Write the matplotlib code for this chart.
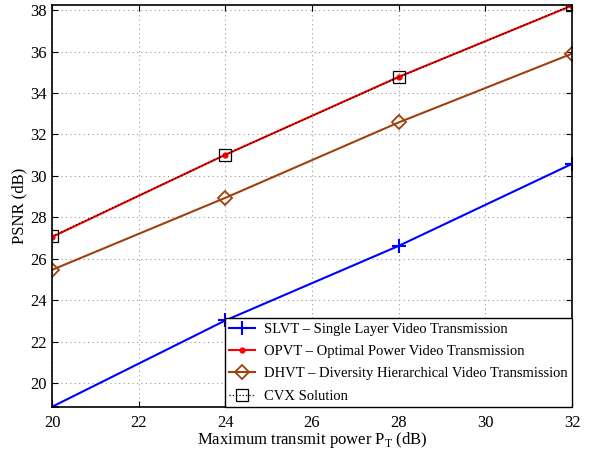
import numpy as np
import matplotlib.pyplot as plt

plt.rcParams['font.family'] = ['Liberation Serif', 'DejaVu Serif']
plt.rcParams['mathtext.fontset'] = 'custom'
plt.rcParams['mathtext.rm'] = 'Liberation Serif'

power = [20, 24, 28, 32]
slvt = [18.85, 23.02, 26.62, 30.58]
opvt = [27.05, 31.02, 34.78, 38.22]
dhvt = [25.46, 28.94, 32.58, 35.90]
cvx = [27.08, 31.02, 34.76, 38.24]

fig = plt.figure(figsize=(5.95, 4.53), dpi=100)
ax = fig.add_axes([0.0874, 0.1015, 0.8740, 0.8875])

ax.plot(power, slvt, color='#0000ff', marker='+', ms=10, mew=1.5, lw=1.5,
        label='SLVT – Single Layer Video Transmission')
ax.plot(power, opvt, color='#ff0000', marker='.', ms=7, lw=1.5,
        label='OPVT – Optimal Power Video Transmission')
ax.plot(power, dhvt, color='#a0400a', marker='D', ms=7, mfc='none', mew=1.3, lw=1.5,
        label='DHVT – Diversity Hierarchical Video Transmission')
ax.plot(power, cvx, color='black', marker='s', ms=9, mfc='none', mew=0.9, lw=0.9,
        ls=':', label='CVX Solution')

ax.set_xlim(20, 32)
ax.set_ylim(18.84, 38.25)
ax.set_xticks(np.arange(20, 33, 2))
ax.set_yticks(np.arange(20, 39, 2))
ax.grid(True, ls=(0, (1, 3)), color='#999999', lw=0.8)
ax.tick_params(direction='in', top=True, right=True, labelsize=12, length=4)
ax.tick_params(axis='x', pad=6)
for s in ax.spines.values():
    s.set_linewidth(1.2)

ax.set_xlabel('Maximum transmit power P$_\\mathrm{T}$ (dB)', fontsize=12, labelpad=-1)
ax.set_ylabel('PSNR (dB)', fontsize=12, labelpad=2)

leg = ax.legend(loc='lower right', fontsize=10.5, fancybox=False, framealpha=1,
                edgecolor='black', borderaxespad=0, handlelength=1.8,
                borderpad=0.3, labelspacing=0.62, handletextpad=0.6)
leg.get_frame().set_linewidth(1.0)

fig.savefig('out.png', dpi=100)
